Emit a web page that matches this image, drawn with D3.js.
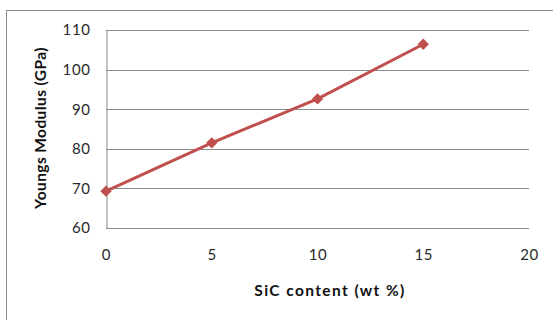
<!DOCTYPE html>
<html><head><meta charset="utf-8">
<script src="https://d3js.org/d3.v7.min.js"></script>
<style>body{margin:0;background:#fff}svg{display:block}</style>
</head><body>
<script>
const sicContent = [0, 5, 10, 15];
const youngsModulus = [69.3, 81.5, 92.6, 106.4];
const xTicks = [0, 5, 10, 15, 20];
const yTicks = [60, 70, 80, 90, 100, 110];
const xTitle = "SiC content (wt %)";
const yTitle = "Youngs Modulus (GPa)";

const W = 553, H = 320;
const svg = d3.select("body").append("svg").attr("width", W).attr("height", H);
svg.append("rect").attr("x", 6.5).attr("y", 10.5).attr("width", 560).attr("height", 330)
  .attr("fill", "#fff").attr("stroke", "#8c8c8c").attr("stroke-width", 1);

const x = d3.scaleLinear().domain([0, 20]).range([106, 529]);
const y = d3.scaleLinear().domain([60, 110]).range([228, 30]);
const font = "Lato, 'Open Sans', sans-serif";

const yAxis = svg.append("g").attr("transform", "translate(106.5,0)")
  .call(d3.axisLeft(y).tickValues(yTicks).tickSize(0).tickPadding(16).tickFormat(d3.format("d")));
yAxis.select(".domain").attr("stroke", "#868686");
yAxis.selectAll("text").attr("font-family", font).attr("font-size", 15).attr("letter-spacing", 0.6).attr("fill", "#2a2a2a");

svg.append("g").selectAll("line").data(yTicks).join("line")
  .attr("x1", 106).attr("x2", 529)
  .attr("y1", d => Math.round(y(d)) + 0.5).attr("y2", d => Math.round(y(d)) + 0.5)
  .attr("stroke", "#8c8c8c").attr("stroke-width", 1);

const xAxis = svg.append("g").attr("transform", "translate(0,228.5)")
  .call(d3.axisBottom(x).tickValues(xTicks).tickSize(0).tickPadding(21).tickFormat(d3.format("d")));
xAxis.select(".domain").remove();
xAxis.selectAll("text").attr("font-family", font).attr("font-size", 15).attr("letter-spacing", 0.6).attr("fill", "#2a2a2a");

const pts = sicContent.map((d, i) => [d, youngsModulus[i]]);
svg.append("path").datum(pts)
  .attr("d", d3.line().x(d => x(d[0])).y(d => y(d[1])))
  .attr("fill", "none").attr("stroke", "#C0504D").attr("stroke-width", 3);
svg.append("g").selectAll("path").data(pts).join("path")
  .attr("d", d3.symbol(d3.symbolSquare, 64))
  .attr("transform", d => `translate(${x(d[0])},${y(d[1])}) rotate(45)`)
  .attr("fill", "#C0504D");

svg.append("text").attr("x", 330).attr("y", 296).attr("text-anchor", "middle")
  .attr("font-family", font).attr("font-size", 15.5).attr("letter-spacing", 1.4).attr("font-weight", "bold").attr("fill", "#111").text(xTitle);
svg.append("text").attr("transform", "translate(46,128) rotate(-90)").attr("text-anchor", "middle")
  .attr("font-family", font).attr("font-size", 15.5).attr("letter-spacing", 0.4).attr("font-weight", "bold").attr("fill", "#111").text(yTitle);
</script>
</body></html>
